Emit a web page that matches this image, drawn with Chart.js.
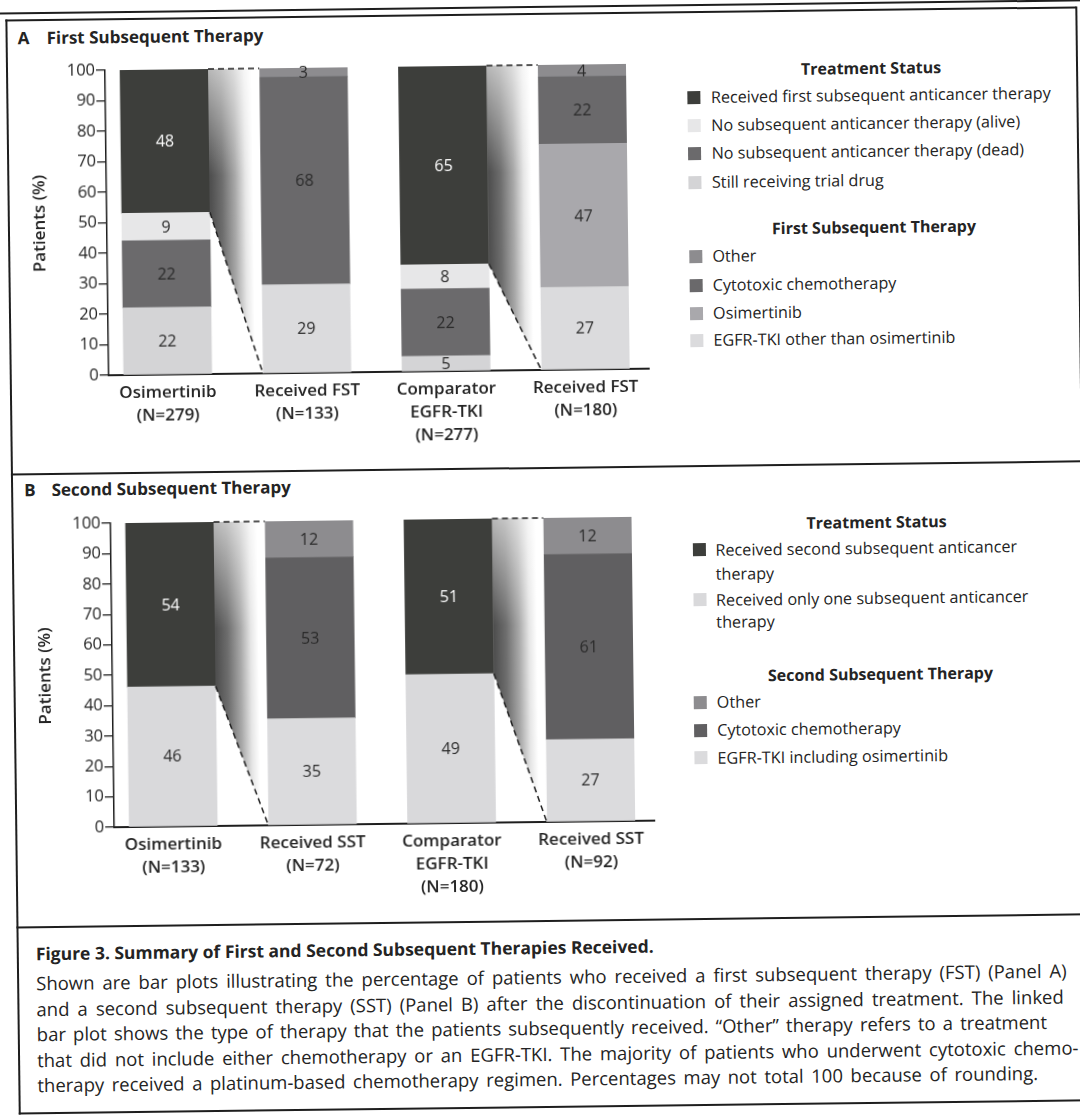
<!DOCTYPE html>
<html>
<head>
<meta charset="utf-8">
<script src="https://cdn.jsdelivr.net/npm/chart.js@4.4.1/dist/chart.umd.min.js"></script>
<style>
  html, body { margin: 0; padding: 0; background: #fff; }
  body { width: 1080px; height: 1116px; overflow: hidden; font-family: "Open Sans", sans-serif; color: #242424; }
  /* the scanned page is tilted a little, so the whole sheet is turned */
  #page { position: absolute; left: 0; top: 0; width: 1080px; height: 1116px; transform: rotate(-0.7deg); transform-origin: 540px 558px; }
  .line { position: absolute; background: #1e1e1e; }
  .txt { position: absolute; white-space: nowrap; line-height: 22px; }
  .ptitle { font-weight: 700; font-size: 17px; }
  .lhead { font-weight: 700; font-size: 16px; }
  .litem { font-size: 16.2px; }
  .capt { font-weight: 700; font-size: 16.5px; }
  .cap { font-size: 18.5px; }
  .sw { position: absolute; width: 13px; height: 13px; }
  canvas { position: absolute; }
</style>
</head>
<body>
<div id="page">
  <div class="line" style="left:5px; top:6px; width:1090px; height:2px;"></div>
  <div class="line" style="left:12px; top:13px; width:1071px; height:1.5px;"></div>
  <div class="line" style="left:12px; top:13px; width:1.5px; height:1095px;"></div>
  <div class="line" style="left:1082px; top:13px; width:1.5px; height:1095px;"></div>
  <div class="line" style="left:12px; top:467px; width:1071px; height:1.5px;"></div>
  <div class="line" style="left:12px; top:920px; width:1071px; height:2px;"></div>
  <div class="line" style="left:12px; top:1106px; width:1071px; height:1.5px;"></div>

  <canvas id="chartA" width="645" height="405" style="left:20px; top:45px; width:645px; height:405px;"></canvas>
  <canvas id="chartB" width="645" height="404" style="left:20px; top:498px; width:645px; height:404px;"></canvas>
</div>

<script>
// ---- Panel A: first subsequent therapy ----
const xLabelsA = [["Osimertinib", "(N=279)"], ["Received FST", "(N=133)"], ["Comparator", "EGFR-TKI", "(N=277)"], ["Received FST", "(N=180)"]];
const stillOnDrugA = [22, null, 5, null];
const noTherapyDeadA = [22, null, 22, null];
const noTherapyAliveA = [9, null, 8, null];
const receivedFirstA = [48, null, 65, null];
const egfrOtherA = [null, 29, null, 27];
const osimFstA = [null, null, null, 47];
const chemoFstA = [null, 68, null, 22];
const otherFstA = [null, 3, null, 4];

// ---- Panel B: second subsequent therapy ----
const xLabelsB = [["Osimertinib", "(N=133)"], ["Received SST", "(N=72)"], ["Comparator", "EGFR-TKI", "(N=180)"], ["Received SST", "(N=92)"]];
const onlyOneB = [46, null, 49, null];
const receivedSecondB = [54, null, 51, null];
const egfrSstB = [null, 35, null, 27];
const chemoSstB = [null, 53, null, 61];
const otherSstB = [null, 12, null, 12];

const barPositions = [0, 1, 2, 3];
const links = [[0, 1], [2, 3]]; // treatment bar -> linked therapy bar

// colours
const cReceived = "#3d3e3b";
const cAlive = "#e7e7e8";
const cDead = "#6b6a6c";
const cStill = "#d4d4d6";
const cOther = "#8d8c8f";
const cChemo = "#6a696b";
const cOsim = "#a9a8ac";
const cEgfr = "#dbdbdd";
const cChemoB = "#605f61";
const cOnlyOne = "#d9d9db";

Chart.defaults.font.family = "'Open Sans', sans-serif";
Chart.defaults.color = "#242424";

// gradient band + dashed lines joining a bar to its linked bar
const linkPlugin = {
    id: "links",
    afterDatasetsDraw(chart, args, opts) {
        const {ctx} = chart;
        const y = chart.scales.y;
        const top = y.getPixelForValue(100);
        const zero = y.getPixelForValue(0);
        const srcMeta = chart.getDatasetMeta(opts.source);
        opts.pairs.forEach(([a, b]) => {
            const src = srcMeta.data[a];
            const tgtIndex = chart.data.datasets.findIndex(d => d.data[b] != null);
            const tgt = chart.getDatasetMeta(tgtIndex).data[b];
            const x1 = src.x + src.width / 2;
            const x2 = tgt.x - tgt.width / 2;
            const yb = src.base;

            ctx.save();
            ctx.beginPath();
            ctx.moveTo(x1, top);
            ctx.lineTo(x2, top);
            ctx.lineTo(x2, zero);
            ctx.lineTo(x1, yb);
            ctx.closePath();
            const g = ctx.createLinearGradient(x1, 0, x2, 0);
            g.addColorStop(0, "#4c4c4c");
            g.addColorStop(0.25, "#6e6e6e");
            g.addColorStop(0.5, "#a8a8a8");
            g.addColorStop(0.7, "#e6e6e6");
            g.addColorStop(0.85, "#ffffff");
            ctx.fillStyle = g;
            ctx.fill();
            const v = ctx.createLinearGradient(0, top, 0, top + (zero - top) * 0.35);
            v.addColorStop(0, "rgba(255,255,255,0.6)");
            v.addColorStop(1, "rgba(255,255,255,0)");
            ctx.fillStyle = v;
            ctx.fill();

            ctx.strokeStyle = "#1e1e1e";
            ctx.lineWidth = 1.5;
            ctx.setLineDash([6, 4]);
            ctx.beginPath();
            ctx.moveTo(x1, top);
            ctx.lineTo(x2, top);
            ctx.moveTo(x1, yb);
            ctx.lineTo(x2, zero);
            ctx.stroke();
            ctx.restore();
        });
    }
};

// value written in the middle of every segment
const valueLabels = {
    id: "valueLabels",
    afterDatasetsDraw(chart) {
        const {ctx, chartArea} = chart;
        ctx.save();
        ctx.font = "16px 'Open Sans'";
        ctx.textAlign = "center";
        ctx.textBaseline = "middle";
        chart.data.datasets.forEach((ds, i) => {
            chart.getDatasetMeta(i).data.forEach((bar, j) => {
                if (ds.data[j] == null) return;
                const t = Math.max(bar.y, chartArea.top);
                ctx.fillStyle = ds.labelColor || "#2a2a2a";
                ctx.fillText(ds.data[j], bar.x, (t + bar.base) / 2 + 1);
            });
        });
        ctx.restore();
    }
};

function makeChart(id, xLabels, datasets, source) {
    return new Chart(document.getElementById(id), {
        type: "bar",
        data: {labels: barPositions, datasets: datasets},
        options: {
            responsive: false,
            animation: false,
            layout: {padding: {top: 20, right: 14, left: 0, bottom: 0}},
            datasets: {bar: {barThickness: 88, clip: 0}},
            plugins: {
                legend: {display: false},
                tooltip: {enabled: false},
                links: {source: source, pairs: links}
            },
            scales: {
                x: {
                    type: "linear",
                    min: -0.424,
                    max: 3.455,
                    bounds: "data",
                    offset: false,
                    stacked: true,
                    afterBuildTicks: s => { s.ticks = barPositions.map(v => ({value: v})); },
                    afterFit: s => { s.height = 80; },
                    grid: {display: false, drawTicks: false},
                    border: {color: "#1e1e1e", width: 2},
                    ticks: {
                        callback: v => xLabels[v],
                        color: "#242424",
                        font: {size: 17, weight: "600", lineHeight: 1.35},
                        padding: 7,
                        maxRotation: 0,
                        autoSkip: false
                    }
                },
                y: {
                    stacked: true,
                    min: 0,
                    max: 100,
                    afterFit: s => { s.width = 91; },
                    ticks: {stepSize: 10, color: "#242424", font: {size: 16.5}, padding: 1},
                    grid: {drawOnChartArea: false, tickLength: 9, color: "#1e1e1e", lineWidth: 1.3},
                    border: {color: "#1e1e1e", width: 1.5},
                    title: {display: true, text: "Patients (%)", color: "#242424", font: {size: 17, weight: "600"}, padding: {top: 14}}
                }
            }
        },
        plugins: [linkPlugin, valueLabels]
    });
}

// ---- page text ----
const page = document.getElementById("page");
function addText(text, x, y, cls, centered) {
    const el = document.createElement("div");
    el.className = "txt " + cls;
    el.textContent = text;
    el.style.left = x + "px";
    el.style.top = (y - 11) + "px";
    if (centered) el.style.transform = "translateX(-50%)";
    page.appendChild(el);
    return el;
}
function addSwatch(color, x, y) {
    const el = document.createElement("div");
    el.className = "sw";
    el.style.background = color;
    el.style.left = x + "px";
    el.style.top = (y - 6.5) + "px";
    page.appendChild(el);
}
function fitWidth(el, w) {
    const gaps = el.textContent.split(" ").length - 1;
    el.style.wordSpacing = ((w - el.offsetWidth) / gaps) + "px";
}
function fitFont(el, w) {
    const size = parseFloat(getComputedStyle(el).fontSize);
    el.style.fontSize = (size * w / el.offsetWidth) + "px";
}

function drawPage() {
    makeChart("chartA", xLabelsA, [
        {label: "Still receiving trial drug", data: stillOnDrugA, backgroundColor: cStill},
        {label: "No subsequent anticancer therapy (dead)", data: noTherapyDeadA, backgroundColor: cDead},
        {label: "No subsequent anticancer therapy (alive)", data: noTherapyAliveA, backgroundColor: cAlive},
        {label: "Received first subsequent anticancer therapy", data: receivedFirstA, backgroundColor: cReceived, labelColor: "#ffffff"},
        {label: "EGFR-TKI other than osimertinib", data: egfrOtherA, backgroundColor: cEgfr},
        {label: "Osimertinib", data: osimFstA, backgroundColor: cOsim},
        {label: "Cytotoxic chemotherapy", data: chemoFstA, backgroundColor: cChemo},
        {label: "Other", data: otherFstA, backgroundColor: cOther}
    ], 3);

    makeChart("chartB", xLabelsB, [
        {label: "Received only one subsequent anticancer therapy", data: onlyOneB, backgroundColor: cOnlyOne},
        {label: "Received second subsequent anticancer therapy", data: receivedSecondB, backgroundColor: cReceived, labelColor: "#ffffff"},
        {label: "EGFR-TKI including osimertinib", data: egfrSstB, backgroundColor: cEgfr},
        {label: "Cytotoxic chemotherapy", data: chemoSstB, backgroundColor: cChemoB},
        {label: "Other", data: otherSstB, backgroundColor: cOther}
    ], 1);

    // panel titles
    addText("A", 24, 32, "ptitle");
    addText("First Subsequent Therapy", 53, 32, "ptitle");
    addText("B", 25, 484, "ptitle");
    addText("Second Subsequent Therapy", 52.5, 484, "ptitle");

    // legend A
    addText("Treatment Status", 877, 72, "lhead", true);
    [["Received first subsequent anticancer therapy", cReceived, 99],
     ["No subsequent anticancer therapy (alive)", cAlive, 127],
     ["No subsequent anticancer therapy (dead)", cDead, 155],
     ["Still receiving trial drug", cStill, 184]].forEach(([t, c, y]) => {
        addSwatch(c, 693, y);
        addText(t, 716.5, y, "litem");
    });
    addText("First Subsequent Therapy", 878, 231, "lhead", true);
    [["Other", cOther, 258],
     ["Cytotoxic chemotherapy", cChemo, 287],
     ["Osimertinib", cOsim, 315],
     ["EGFR-TKI other than osimertinib", cEgfr, 342]].forEach(([t, c, y]) => {
        addSwatch(c, 693, y);
        addText(t, 716, y, "litem");
    });

    // legend B
    addText("Treatment Status", 877, 526, "lhead", true);
    addSwatch(cReceived, 693, 551.5);
    addText("Received second subsequent anticancer", 715.5, 551.5, "litem");
    addText("therapy", 715.5, 575.5, "litem");
    addSwatch(cOnlyOne, 693, 601.5);
    addText("Received only one subsequent anticancer", 715.5, 601.5, "litem");
    addText("therapy", 715.5, 624, "litem");
    addText("Second Subsequent Therapy", 879, 677.5, "lhead", true);
    [["Other", cOther, 704],
     ["Cytotoxic chemotherapy", cChemoB, 732],
     ["EGFR-TKI including osimertinib", cEgfr, 759.5]].forEach(([t, c, y]) => {
        addSwatch(c, 692, y);
        addText(t, 715, y, "litem");
    });

    // caption
    fitFont(addText("Figure 3. Summary of First and Second Subsequent Therapies Received.", 31, 947, "capt"), 619);
    const capLines = [
        ["Shown are bar plots illustrating the percentage of patients who received a first subsequent therapy (FST) (Panel A)", 1030],
        ["and a second subsequent therapy (SST) (Panel B) after the discontinuation of their assigned treatment. The linked", 1027],
        ["bar plot shows the type of therapy that the patients subsequently received. \u201COther\u201D therapy refers to a treatment", 1010],
        ["that did not include either chemotherapy or an EGFR-TKI. The majority of patients who underwent cytotoxic chemo-", 1041],
        ["therapy received a platinum-based chemotherapy regimen. Percentages may not total 100 because of rounding.", 1001]
    ];
    capLines.forEach(([t, w], i) => fitWidth(addText(t, 31, 977 + i * 25.5, "cap"), w));
}

document.fonts.ready.then(drawPage);
</script>
</body>
</html>
